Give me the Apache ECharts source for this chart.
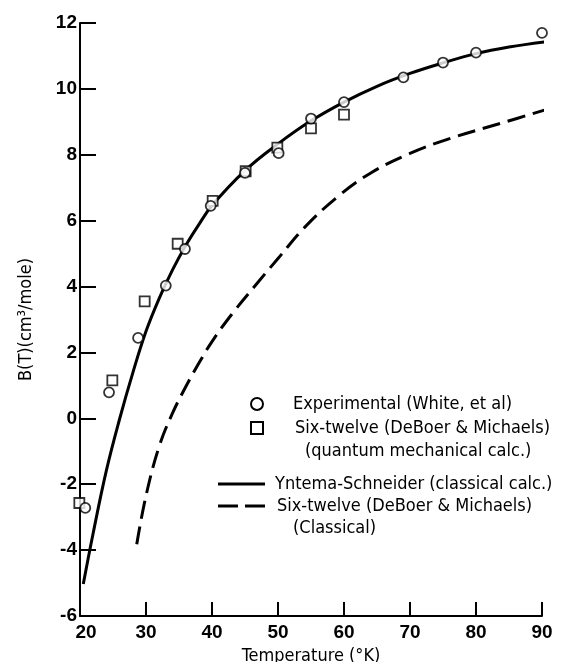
<!DOCTYPE html>
<html><head><meta charset="utf-8">
<script src="https://cdn.jsdelivr.net/npm/echarts@6/dist/echarts.min.js"></script>
<style>html,body{margin:0;padding:0;background:#fff}#c{width:567px;height:662px}</style>
</head><body><div id="c"></div>
<script>
// Tick values
const xTicks = [20, 30, 40, 50, 60, 70, 80, 90];
const yTicks = [-6, -4, -2, 0, 2, 4, 6, 8, 10, 12];
// Experimental (White, et al) - circles
const expT = [20.8, 24.4, 28.8, 33, 35.9, 39.8, 45, 50.1, 55, 60, 69, 75, 80, 90];
const expB = [-2.72, 0.79, 2.44, 4.03, 5.14, 6.45, 7.45, 8.05, 9.1, 9.6, 10.35, 10.8, 11.1, 11.7];
// Six-twelve (DeBoer & Michaels) quantum mechanical calc. - squares
const qT = [19.9, 24.9, 29.8, 34.8, 40.1, 45.1, 49.9, 55, 60];
const qB = [-2.57, 1.15, 3.55, 5.3, 6.6, 7.5, 8.22, 8.8, 9.22];
// Yntema-Schneider (classical calc.) - solid curve
const ysT = [20.5, 22, 24, 26, 28, 30, 32, 34, 36, 38, 40, 45, 50, 55, 60, 65, 70, 75, 80, 85, 90.5];
const ysB = [-5.03, -3.48, -1.58, -0.02, 1.38, 2.64, 3.64, 4.5, 5.24, 5.88, 6.46, 7.52, 8.33, 9.03, 9.6, 10.08, 10.47, 10.79, 11.07, 11.27, 11.43];
// Six-twelve (DeBoer & Michaels) classical - dashed curve
const clT = [28.6, 30, 32, 34, 36, 38, 40, 43, 47, 50, 54, 59, 64, 70, 76, 84, 90.75];
const clB = [-3.82, -2.35, -0.85, 0.15, 0.95, 1.67, 2.33, 3.16, 4.14, 4.85, 5.79, 6.72, 7.44, 8.04, 8.49, 8.97, 9.38];
// Legend / axis texts
const legendLabels = [
  'Experimental (White, et al)',
  'Six-twelve (DeBoer & Michaels)',
  '(quantum mechanical calc.)',
  'Yntema-Schneider (classical calc.)',
  'Six-twelve (DeBoer & Michaels)',
  '(Classical)'
];
const xTitle = 'Temperature (°K)';
const yTitle = 'B(T)(cm³/mole)';

const zip = (a, b) => a.map((v, i) => [v, b[i]]);
const TXT = "'DejaVu Sans Condensed', 'DejaVu Sans', sans-serif";
const NUM = "'Liberation Sans', Arial, sans-serif";
const FS = 18;

const chart = echarts.init(document.getElementById('c'), null, {renderer: 'canvas'});
const baseText = {fontFamily: TXT, fontSize: FS, color: '#000'};

function label(text, x, y) {
  return {
    type: 'text', x: x, y: y, z: 10,
    style: {text: text, fill: '#000', fontFamily: TXT, fontSize: FS, align: 'left', verticalAlign: 'middle'}
  };
}

chart.setOption({
  animation: false,
  backgroundColor: '#fff',
  grid: {left: 80, right: 25, top: 23, bottom: 46, outerBoundsMode: 'none'},
  xAxis: {
    type: 'value', min: xTicks[0], max: xTicks[xTicks.length - 1], interval: 10,
    name: xTitle, nameLocation: 'middle', nameGap: 30,
    nameTextStyle: baseText,
    axisLine: {onZero: false, lineStyle: {color: '#000', width: 2}},
    axisTick: {inside: true, length: 14, lineStyle: {color: '#000', width: 2}},
    splitLine: {show: false},
    axisLabel: {
      margin: 7, color: '#000', fontFamily: NUM, fontSize: 19, fontWeight: 'bold',
      formatter: v => v === xTicks[0] ? '{f|' + v + '}' : String(v),
      rich: {f: {padding: [0, 0, 0, 12], fontFamily: NUM, fontSize: 19, fontWeight: 'bold', color: '#000'}}
    }
  },
  yAxis: {
    type: 'value', min: yTicks[0], max: yTicks[yTicks.length - 1], interval: 2,
    name: yTitle, nameLocation: 'middle', nameGap: 45,
    nameTextStyle: baseText,
    axisLine: {onZero: false, lineStyle: {color: '#000', width: 2}},
    axisTick: {inside: true, length: 16, lineStyle: {color: '#000', width: 2}},
    splitLine: {show: false},
    axisLabel: {margin: 3, color: '#000', fontFamily: NUM, fontSize: 19, fontWeight: 'bold'}
  },
  graphic: [
    {type: 'circle', z: 10, shape: {cx: 257, cy: 404, r: 6}, style: {fill: '#fff', stroke: '#000', lineWidth: 2}},
    {type: 'rect', z: 10, shape: {x: 251, y: 422, width: 12, height: 12}, style: {fill: '#fff', stroke: '#000', lineWidth: 2}},
    {type: 'line', z: 10, shape: {x1: 218, y1: 484, x2: 265, y2: 484}, style: {stroke: '#000', lineWidth: 3}},
    {type: 'line', z: 10, shape: {x1: 218, y1: 506, x2: 267, y2: 506}, style: {stroke: '#000', lineWidth: 3, lineDash: [20, 7]}},
    label(legendLabels[0], 293, 404),
    label(legendLabels[1], 295, 428),
    label(legendLabels[2], 305, 451),
    label(legendLabels[3], 275, 484),
    label(legendLabels[4], 277, 506),
    label(legendLabels[5], 293, 528)
  ],
  series: [
    {
      name: legendLabels[3], type: 'line', data: zip(ysT, ysB), smooth: 0.4, symbol: 'none',
      clip: false, z: 2,
      lineStyle: {color: '#000', width: 3}, itemStyle: {color: '#000'}
    },
    {
      name: legendLabels[4] + ' ' + legendLabels[5], type: 'line', data: zip(clT, clB), smooth: 0.4, symbol: 'none',
      clip: false, z: 2,
      lineStyle: {color: '#000', width: 3, type: [18, 8]}, itemStyle: {color: '#000'}
    },
    {
      name: legendLabels[0], type: 'scatter', data: zip(expT, expB), symbol: 'circle', symbolSize: 10,
      clip: false, z: 4,
      itemStyle: {color: '#fff', borderColor: '#000', borderWidth: 1.8}
    },
    {
      name: legendLabels[1] + ' ' + legendLabels[2], type: 'scatter', data: zip(qT, qB), symbol: 'rect', symbolSize: 10,
      clip: false, z: 3,
      itemStyle: {color: '#fff', borderColor: '#000', borderWidth: 1.8}
    }
  ]
});
</script>
</body></html>
